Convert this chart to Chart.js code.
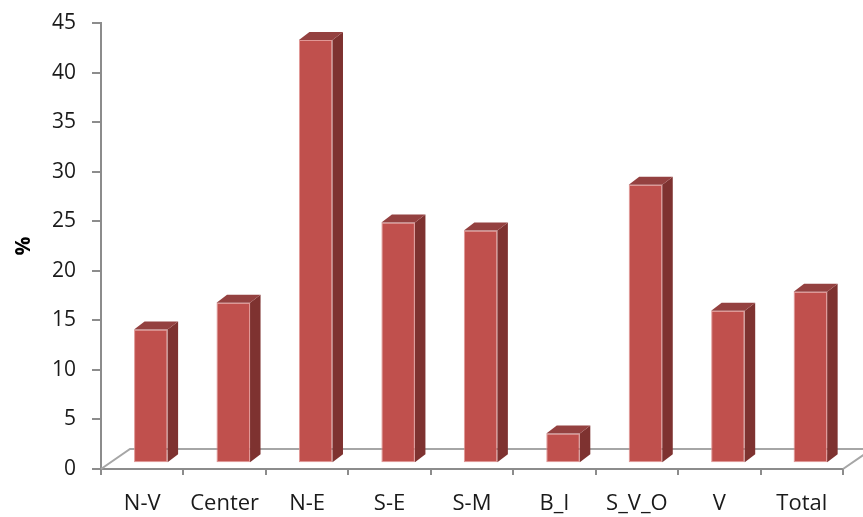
<!DOCTYPE html>
<html>
<head>
<meta charset="utf-8">
<script src="https://cdn.jsdelivr.net/npm/chart.js@4/dist/chart.umd.min.js"></script>
<style>
  html, body { margin: 0; padding: 0; background: #ffffff; }
  #wrap { width: 863px; height: 517px; }
</style>
</head>
<body>
<div id="wrap"><canvas id="chart" width="863" height="517"></canvas></div>
<script>
// Regions and their share (%)
const categories = ['N-V', 'Center', 'N-E', 'S-E', 'S-M', 'B_I', 'S_V_O', 'V', 'Total'];
const shares = [13.5, 16.2, 42.7, 24.3, 23.5, 3.0, 28.1, 15.4, 17.3];
const yTicks = [0, 5, 10, 15, 20, 25, 30, 35, 40, 45];

// Column colours (front, side, top) and the grey used by axes and floor
const FRONT = '#C0504D';
const SIDE = '#7E3230';
const TOP = '#944140';
const AXIS_GREY = '#8C8C8C';
const FLOOR_GREY = '#A6A6A6';

// Perspective: how far the floor recedes, and where the columns stand in it
const FLOOR_DX = 29, FLOOR_DY = 20;
const COL_SHIFT_X = 8.6, COL_SHIFT_Y = -5.7;
const DEPTH_DX = 10.5, DEPTH_DY = 8;

const FONT = '"Open Sans", "DejaVu Sans", sans-serif';

const floorPlugin = {
  id: 'floor',
  beforeDatasetsDraw(chart) {
    const { ctx, chartArea, scales } = chart;
    const y0 = scales.y.getPixelForValue(0);
    const l = chartArea.left, r = chartArea.right;
    ctx.save();
    ctx.strokeStyle = FLOOR_GREY;
    ctx.lineWidth = 2;
    ctx.beginPath();
    ctx.moveTo(l, y0);
    ctx.lineTo(l + FLOOR_DX, y0 - FLOOR_DY);
    ctx.lineTo(r + FLOOR_DX, y0 - FLOOR_DY);
    ctx.moveTo(r, y0);
    ctx.lineTo(r + FLOOR_DX, y0 - FLOOR_DY);
    ctx.stroke();
    ctx.restore();
    // columns stand a little way into the floor
    ctx.save();
    ctx.translate(COL_SHIFT_X, COL_SHIFT_Y);
  },
  afterDatasetsDraw(chart) {
    const { ctx } = chart;
    const meta = chart.getDatasetMeta(0);
    meta.data.forEach((bar) => {
      const p = bar.getProps(['x', 'y', 'base', 'width'], true);
      const xl = p.x - p.width / 2, xr = p.x + p.width / 2;
      // side face
      ctx.fillStyle = SIDE;
      ctx.beginPath();
      ctx.moveTo(xr, p.y);
      ctx.lineTo(xr + DEPTH_DX, p.y - DEPTH_DY);
      ctx.lineTo(xr + DEPTH_DX, p.base - DEPTH_DY);
      ctx.lineTo(xr, p.base);
      ctx.closePath();
      ctx.fill();
      // top face
      ctx.fillStyle = TOP;
      ctx.beginPath();
      ctx.moveTo(xl, p.y);
      ctx.lineTo(xl + DEPTH_DX, p.y - DEPTH_DY);
      ctx.lineTo(xr + DEPTH_DX, p.y - DEPTH_DY);
      ctx.lineTo(xr, p.y);
      ctx.closePath();
      ctx.fill();
    });
    ctx.restore();
  }
};

new Chart(document.getElementById('chart'), {
  type: 'bar',
  data: {
    labels: categories,
    datasets: [{
      data: shares,
      backgroundColor: FRONT,
      borderColor: 'rgba(222,140,138,0.9)',
      borderWidth: 1,
      borderSkipped: false,
      barPercentage: 0.407,
      categoryPercentage: 1.0
    }]
  },
  plugins: [floorPlugin],
  options: {
    responsive: false,
    animation: false,
    devicePixelRatio: 1,
    layout: { padding: { top: 23, right: 20, left: 0, bottom: 0 } },
    plugins: {
      legend: { display: false },
      tooltip: { enabled: false }
    },
    scales: {
      x: {
        afterFit(scale) {
          scale.height = 48;
          scale.paddingLeft = 0;
          scale.paddingRight = 0;
        },
        grid: {
          offset: true,
          drawOnChartArea: false,
          drawTicks: true,
          tickLength: 6,
          color: AXIS_GREY,
          lineWidth: 2
        },
        border: { display: true, color: AXIS_GREY, width: 2 },
        ticks: {
          color: '#1a1a1a',
          font: { family: FONT, size: 22 },
          padding: 16,
          maxRotation: 0,
          autoSkip: false
        }
      },
      y: {
        min: 0,
        max: 45,
        afterFit(scale) {
          scale.width = 101;
          scale.paddingTop = 0;
          scale.paddingBottom = 0;
        },
        afterBuildTicks(scale) { scale.ticks = yTicks.map(v => ({ value: v })); },
        grid: {
          drawOnChartArea: false,
          drawTicks: true,
          tickLength: 9,
          color: AXIS_GREY,
          lineWidth: 2
        },
        border: { display: true, color: AXIS_GREY, width: 2 },
        ticks: {
          color: '#1a1a1a',
          font: { family: FONT, size: 21 },
          padding: 16
        },
        title: {
          display: true,
          text: '%',
          color: '#000000',
          font: { family: FONT, size: 21, weight: 'bold' },
          padding: { top: 11, bottom: 0 }
        }
      }
    }
  }
});
</script>
</body>
</html>
